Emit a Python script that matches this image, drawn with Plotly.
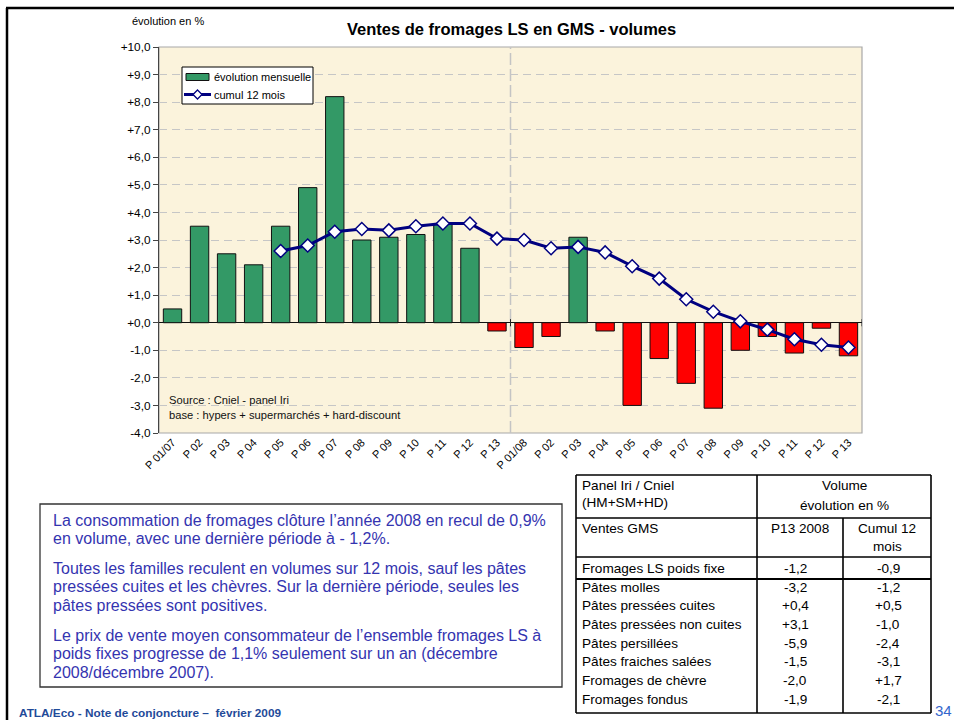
import plotly.graph_objects as go

# ---------------- data ----------------
periods = ["P 01/07", "P 02", "P 03", "P 04", "P 05", "P 06", "P 07", "P 08", "P 09",
           "P 10", "P 11", "P 12", "P 13",
           "P 01/08", "P 02", "P 03", "P 04", "P 05", "P 06", "P 07", "P 08", "P 09",
           "P 10", "P 11", "P 12", "P 13"]
monthly_evolution = [0.5, 3.5, 2.5, 2.1, 3.5, 4.9, 8.2, 3.0, 3.1, 3.2, 3.6, 2.7, -0.3,
                     -0.9, -0.5, 3.1, -0.3, -3.0, -1.3, -2.2, -3.1, -1.0, -0.5, -1.1, -0.2, -1.2]
cumul_12_months = [None, None, None, None, 2.6, 2.8, 3.3, 3.4, 3.35, 3.5, 3.6, 3.6, 3.05,
                   3.0, 2.7, 2.75, 2.55, 2.05, 1.6, 0.85, 0.4, 0.05, -0.25, -0.6, -0.8, -0.9]
ytick_vals = list(range(-4, 11))
ytick_text = ["-4,0", "-3,0", "-2,0", "-1,0", "+0,0", "+1,0", "+2,0", "+3,0", "+4,0",
              "+5,0", "+6,0", "+7,0", "+8,0", "+9,0", "+10,0"]
series_names = ["évolution mensuelle", "cumul 12 mois"]

title_text = "Ventes de fromages LS en GMS - volumes"
yaxis_label = "évolution en %"
source_lines = ["Source : Cniel - panel Iri", "base : hypers + supermarchés + hard-discount"]

comment_paragraphs = [
    ["La consommation de fromages clôture l’année 2008 en recul de 0,9%",
     "en volume, avec une dernière période à - 1,2%."],
    ["Toutes les familles reculent en volumes sur 12 mois, sauf les pâtes",
     "pressées cuites et les chèvres. Sur la dernière période, seules les",
     "pâtes pressées sont positives."],
    ["Le prix de vente moyen consommateur de l’ensemble fromages LS à",
     "poids fixes progresse de 1,1% seulement sur un an (décembre",
     "2008/décembre 2007)."],
]

table_header_left = ["Panel Iri / Cniel", "(HM+SM+HD)"]
table_header_right = ["Volume", "évolution en %"]
table_subheader = ["Ventes GMS", "P13 2008", "Cumul 12", "mois"]
total_row = ["Fromages LS poids fixe", "-1,2", "-0,9"]
families = ["Pâtes molles", "Pâtes pressées cuites", "Pâtes pressées non cuites",
            "Pâtes persillées", "Pâtes fraiches salées", "Fromages de chèvre", "Fromages fondus"]
p13_2008 = ["-3,2", "+0,4", "+3,1", "-5,9", "-1,5", "-2,0", "-1,9"]
cumul_12_mois = ["-1,2", "+0,5", "-1,0", "-2,4", "-3,1", "+1,7", "-2,1"]

footer_text = "ATLA/Eco - Note de conjoncture –  février 2009"
page_number = "34"

# ---------------- layout geometry (pixels) ----------------
W, H = 954, 720
PL, PR, PT, PB = 159, 862, 47, 433


def fx(px):
    return (px - PL) / (PR - PL)


def fy(py):
    return (PB - py) / (PB - PT)


FONT = "Liberation Sans, Arial, sans-serif"
GREEN = "#339966"
RED = "#FF0000"
NAVY = "#000080"
xs = list(range(len(periods)))
bar_colors = [GREEN if v >= 0 else RED for v in monthly_evolution]

fig = go.Figure()
fig.add_trace(go.Bar(
    x=xs, y=monthly_evolution, name=series_names[0],
    marker=dict(color=bar_colors, line=dict(color="#111111", width=1)),
    width=0.68, showlegend=False,
))
fig.add_trace(go.Scatter(
    x=xs, y=cumul_12_months, name=series_names[1], mode="lines+markers",
    line=dict(color=NAVY, width=3),
    marker=dict(symbol="diamond", size=10, color="white",
                line=dict(color=NAVY, width=1.5)),
    connectgaps=False, showlegend=False,
))

shapes = []
annotations = []

# page frame (top + left)
shapes.append(dict(type="line", xref="paper", yref="paper", x0=fx(6), x1=fx(954),
                   y0=fy(8), y1=fy(8), line=dict(color="black", width=2.5)))
shapes.append(dict(type="line", xref="paper", yref="paper", x0=fx(7), x1=fx(7),
                   y0=fy(8), y1=fy(720), line=dict(color="black", width=2.5)))

# plot area border
shapes.append(dict(type="rect", xref="paper", yref="paper", x0=0, x1=1, y0=0, y1=1,
                   line=dict(color="#A8A8A8", width=1.2), layer="below"))
# vertical separator between years
shapes.append(dict(type="line", xref="x", yref="paper", x0=12.5, x1=12.5, y0=0, y1=1,
                   line=dict(color="#C4C4C4", width=1.5, dash="12px,4px"), layer="below"))
# small ticks on zero line
for xv in (12.5, 25.5):
    shapes.append(dict(type="line", xref="x", yref="y", x0=xv, x1=xv, y0=-0.13, y1=0.13,
                       line=dict(color="#222222", width=1)))

# custom legend box
shapes.append(dict(type="rect", xref="paper", yref="paper", x0=fx(182), x1=fx(313),
                   y0=fy(67), y1=fy(104), line=dict(color="black", width=1),
                   fillcolor="white"))
shapes.append(dict(type="rect", xref="paper", yref="paper", x0=fx(186), x1=fx(209),
                   y0=fy(73.5), y1=fy(80.5), line=dict(color="#111111", width=1),
                   fillcolor=GREEN))
shapes.append(dict(type="line", xref="paper", yref="paper", x0=fx(184), x1=fx(211),
                   y0=fy(94.5), y1=fy(94.5), line=dict(color=NAVY, width=3)))
cx, cy, r = 197.5, 94.5, 4.5
shapes.append(dict(type="path", xref="paper", yref="paper",
                   path=(f"M {fx(cx)} {fy(cy - r)} L {fx(cx + r)} {fy(cy)} "
                         f"L {fx(cx)} {fy(cy + r)} L {fx(cx - r)} {fy(cy)} Z"),
                   fillcolor="white", line=dict(color=NAVY, width=1.3)))
for i, nm in enumerate(series_names):
    annotations.append(dict(text=nm, xref="paper", yref="paper", x=fx(212), y=fy(77 + 17.5 * i),
                            xanchor="left", yanchor="middle", showarrow=False,
                            font=dict(size=11, color="black", family=FONT)))

# title + axis label
annotations.append(dict(text="<b>" + title_text + "</b>", xref="paper", yref="paper",
                        x=fx(511), y=fy(29), xanchor="center", yanchor="middle",
                        showarrow=False, font=dict(size=16.5, color="black", family=FONT)))
annotations.append(dict(text=yaxis_label, xref="paper", yref="paper",
                        x=fx(130), y=fy(21), xanchor="left", yanchor="middle",
                        showarrow=False, font=dict(size=11, color="black", family=FONT)))
# source text inside plot
for i, s in enumerate(source_lines):
    annotations.append(dict(text=s, xref="paper", yref="paper", x=fx(167), y=fy(400 + 15 * i),
                            xanchor="left", yanchor="middle", showarrow=False,
                            font=dict(size=11.2, color="#111111", family=FONT)))

# comment text box
shapes.append(dict(type="rect", xref="paper", yref="paper", x0=fx(40), x1=fx(562),
                   y0=fy(504), y1=fy(687), line=dict(color="#333333", width=1.3),
                   fillcolor="white"))
para_tops = [520, 568, 635]
for p, lines in enumerate(comment_paragraphs):
    for j, ln in enumerate(lines):
        annotations.append(dict(text=ln, xref="paper", yref="paper",
                                x=fx(51), y=fy(para_tops[p] + 18.6 * j),
                                xanchor="left", yanchor="middle", showarrow=False,
                                font=dict(size=16, color="#3434B0", family=FONT)))

# table lines
TL, TC1, TC2, TR = 576, 757, 843, 931
TT, TR1, TR2, TR3, TB = 475, 518, 557, 579, 713
lw = 1.6


def hline(y, x0=TL, x1=TR, w=lw):
    shapes.append(dict(type="line", xref="paper", yref="paper", x0=fx(x0), x1=fx(x1),
                       y0=fy(y), y1=fy(y), line=dict(color="black", width=w)))


def vline(x, y0, y1, w=lw):
    shapes.append(dict(type="line", xref="paper", yref="paper", x0=fx(x), x1=fx(x),
                       y0=fy(y0), y1=fy(y1), line=dict(color="black", width=w)))


hline(TT)
hline(TR1)
hline(TR2)
hline(TR3, w=2.2)
hline(TB)
vline(TL, TT, TB)
vline(TC1, TT, TB)
vline(TC2, TR1, TB)
vline(TR, TT, TB)

TFONT = dict(size=13.6, color="black", family=FONT)


def tcell(text, x, y, anchor="left"):
    annotations.append(dict(text=text, xref="paper", yref="paper", x=fx(x), y=fy(y),
                            xanchor=anchor, yanchor="middle", showarrow=False, font=TFONT))


tcell(table_header_left[0], 580, 485)
tcell(table_header_left[1], 580, 502)
tcell(table_header_right[0], 844, 485, "center")
tcell(table_header_right[1], 844, 505, "center")
tcell(table_subheader[0], 580, 528)
tcell(table_subheader[1], 800, 528, "center")
tcell(table_subheader[2], 887, 528, "center")
tcell(table_subheader[3], 887, 546, "center")
tcell(total_row[0], 580, 568)
tcell(total_row[1], 795, 568, "center")
tcell(total_row[2], 888, 568, "center")
for i, fam in enumerate(families):
    yy = 587.3 + 18.67 * i
    tcell(fam, 580, yy)
    tcell(p13_2008[i], 795, yy, "center")
    tcell(cumul_12_mois[i], 888, yy, "center")

# footer + page number
annotations.append(dict(text="<b>" + footer_text + "</b>", xref="paper", yref="paper",
                        x=fx(17), y=fy(713), xanchor="left", yanchor="middle", showarrow=False,
                        font=dict(size=11.8, color="#1F4A99", family=FONT)))
annotations.append(dict(text=page_number, xref="paper", yref="paper",
                        x=fx(933), y=fy(710), xanchor="left", yanchor="middle", showarrow=False,
                        font=dict(size=15, color="#3366CC", family=FONT)))

fig.update_layout(
    width=W, height=H,
    margin=dict(l=PL, r=W - PR, t=PT, b=H - PB, pad=0),
    paper_bgcolor="white",
    plot_bgcolor="#FBF3DC",
    font=dict(family=FONT, size=11, color="black"),
    bargap=0.32,
    showlegend=False,
    xaxis=dict(range=[-0.5, len(periods) - 0.5], tickvals=xs, ticktext=periods,
               tickangle=-45, showgrid=False, zeroline=False, showline=False,
               ticks="", tickfont=dict(size=11, color="black", family=FONT),
               fixedrange=True),
    yaxis=dict(range=[-4, 10], tickvals=ytick_vals, ticktext=ytick_text,
               showgrid=True, gridcolor="#C6C6C6", gridwidth=1, griddash="8px,5px",
               zeroline=True, zerolinecolor="#111111", zerolinewidth=1.2,
               showline=True, linecolor="#444444", linewidth=1.3,
               ticks="outside", ticklen=5, tickcolor="#444444",
               tickfont=dict(size=11.8, color="black", family=FONT), fixedrange=True),
    shapes=shapes,
    annotations=annotations,
)

fig.write_html("out.html", config={"displayModeBar": False},
               post_script="document.body.style.margin='0px';document.body.style.overflow='hidden';")
